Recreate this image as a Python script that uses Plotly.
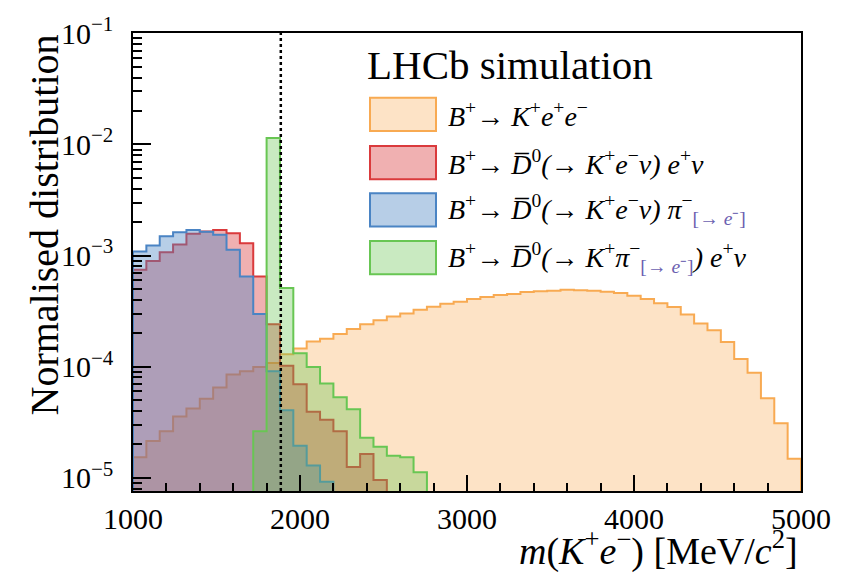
import numpy as np
import plotly.graph_objects as go

# 80 MeV bins between 1000 and 5000 MeV
bin_edges = np.arange(1000, 5001, 80)

# Normalised bin contents (0 = empty bin)
b_kee = [1.53e-5, 2.14e-5, 2.62e-5, 3.55e-5, 4.20e-5, 5.13e-5, 6.50e-5, 8.49e-5, 9.10e-5, 9.91e-5,
         1.08e-4, 1.29e-4, 1.46e-4, 1.68e-4, 1.78e-4, 1.97e-4, 2.18e-4, 2.41e-4, 2.61e-4, 2.83e-4,
         3.01e-4, 3.26e-4, 3.46e-4, 3.68e-4, 3.83e-4, 4.07e-4, 4.24e-4, 4.41e-4, 4.50e-4, 4.69e-4,
         4.78e-4, 4.83e-4, 4.91e-4, 4.88e-4, 4.81e-4, 4.71e-4, 4.59e-4, 4.35e-4, 4.07e-4, 3.73e-4,
         3.44e-4, 2.95e-4, 2.44e-4, 2.13e-4, 1.67e-4, 1.17e-4, 8.79e-5, 5.20e-5, 3.10e-5, 1.48e-5]

b_d_kenu_enu = [7.45e-4, 8.93e-4, 1.07e-3, 1.26e-3, 1.57e-3, 1.65e-3, 1.70e-3, 1.59e-3, 1.29e-3, 6.47e-4,
                2.41e-4, 1.02e-4, 6.93e-5, 3.93e-5, 3.32e-5, 2.62e-5, 1.25e-5, 1.64e-5, 9.57e-6] + [0] * 31

b_d_kenu_pi = [1.09e-3, 1.23e-3, 1.49e-3, 1.62e-3, 1.70e-3, 1.64e-3, 1.54e-3, 1.13e-3, 6.47e-4, 2.98e-4,
               9.10e-5, 4.06e-5, 1.94e-5, 1.29e-5, 9.2e-6] + [0] * 35

b_d_kpi_enu = [0] * 9 + [2.62e-5, 1.14e-2, 5.11e-4, 1.32e-4, 9.93e-5, 7.05e-5, 5.31e-5, 4.14e-5, 2.29e-5,
                         1.90e-5, 1.58e-5, 1.53e-5, 1.12e-5] + [0] * 28

d0_mass_line = 1885

labels = [
    "<i>B</i><sup>+</sup>\u2192 <i>K</i><sup>+</sup><i>e</i><sup>+</sup><i>e</i><sup>\u2212</sup>",
    "<i>B</i><sup>+</sup>\u2192 <i>D\u0305</i><sup>0</sup><i>(\u2192 K</i><sup>+</sup><i>e</i><sup>\u2212</sup><i>\u03bd) e</i><sup>+</sup><i>\u03bd</i>",
    "<i>B</i><sup>+</sup>\u2192 <i>D\u0305</i><sup>0</sup><i>(\u2192 K</i><sup>+</sup><i>e</i><sup>\u2212</sup><i>\u03bd) \u03c0</i><sup>\u2212</sup><sub><span style='color:#6b5fb0'>[\u2192 <i>e</i>\u207b]</span></sub>",
    "<i>B</i><sup>+</sup>\u2192 <i>D\u0305</i><sup>0</sup><i>(\u2192 K</i><sup>+</sup><i>\u03c0</i><sup>\u2212</sup><sub><span style='color:#6b5fb0'>[\u2192 <i>e</i>\u207b]</span></sub><i>) e</i><sup>+</sup><i>\u03bd</i>",
]

line_colours = ["#F8AA52", "#DA3A3C", "#4A84C4", "#68C653"]
fill_colours = ["rgba(248,170,82,0.33)", "rgba(218,58,60,0.40)",
                "rgba(74,132,196,0.40)", "rgba(104,198,83,0.36)"]
series = [b_kee, b_d_kenu_enu, b_d_kenu_pi, b_d_kpi_enu]

FONT = "Liberation Serif"
floor = 1e-8  # below the visible range; empty bins drop to the frame

fig = go.Figure()
for vals, lc, fc in zip(series, line_colours, fill_colours):
    v = np.where(np.asarray(vals, float) > 0, vals, floor)
    xs = np.repeat(bin_edges, 2)
    ys = np.concatenate([[floor], np.repeat(v, 2), [floor]])
    fig.add_trace(go.Scatter(x=xs, y=ys, mode="lines", fill="toself", fillcolor=fc,
                             line=dict(color=lc, width=2), showlegend=False, hoverinfo="skip"))

# plot-area pixel helpers for the hand-drawn legend
L, R, T, B = 133, 801, 21, 491
def px(x):
    return (x - L) / (R - L)
def py(y):
    return (B - y) / (B - T)

fig.add_shape(type="line", xref="x", yref="paper", x0=d0_mass_line, x1=d0_mass_line, y0=0, y1=1,
              line=dict(color="black", width=2.5, dash="3px,3px"))

box_centres = [104.5, 154, 202.5, 251.5]
for lab, lc, fc, yc in zip(labels, line_colours, fill_colours, box_centres):
    fig.add_shape(type="rect", xref="paper", yref="paper",
                  x0=px(370), x1=px(436), y0=py(yc + 17), y1=py(yc - 17),
                  fillcolor=fc, line=dict(color=lc, width=2))
    fig.add_annotation(xref="paper", yref="paper", x=px(446), y=py(yc), xanchor="left",
                       yanchor="middle", text=lab, showarrow=False,
                       font=dict(family=FONT, size=28, color="black"))

fig.add_annotation(xref="paper", yref="paper", x=px(365), y=py(54), xanchor="left", yanchor="middle",
                   text="LHCb simulation", showarrow=False,
                   font=dict(family=FONT, size=41, color="black"))

fig.add_annotation(xref="paper", yref="paper", x=px(44), y=py(21), xanchor="center", yanchor="top",
                   textangle=-90, text="Normalised distribution", showarrow=False,
                   font=dict(family=FONT, size=40, color="black"))

fig.add_annotation(xref="paper", yref="paper", x=px(800), y=py(550), xanchor="right", yanchor="middle",
                   text="<i>m</i>(<i>K</i><sup>+</sup><i>e</i><sup>\u2212</sup>) [MeV/<i>c</i><sup>2</sup>]",
                   showarrow=False, font=dict(family=FONT, size=38, color="black"))

y_major = [1e-5, 1e-4, 1e-3, 1e-2, 1e-1]
y_major_text = ["10<sup>\u2212%d</sup>" % k for k in (5, 4, 3, 2, 1)]
y_minor = [m * 10.0 ** d for d in range(-6, -1) for m in range(2, 10)]
y_minor = [v for v in y_minor if 7.6e-6 < v < 0.1]

fig.update_xaxes(range=[1000, 5000], tickvals=[1000, 2000, 3000, 4000, 5000],
                 ticks="inside", ticklen=16, tickwidth=1.5, tickcolor="black",
                 minor=dict(dtick=200, ticks="inside", ticklen=8, tickwidth=1.5, tickcolor="black"),
                 showline=True, linecolor="black", linewidth=1.5, mirror=True,
                 showgrid=False, zeroline=False, ticklabelstandoff=0,
                 tickfont=dict(family=FONT, size=30, color="black"))
fig.update_yaxes(type="log", range=[np.log10(7.6e-6), -0.997], tickvals=y_major, ticktext=y_major_text,
                 ticks="inside", ticklen=18, tickwidth=1.5, tickcolor="black",
                 minor=dict(tickvals=y_minor, ticks="inside", ticklen=9, tickwidth=1.5, tickcolor="black"),
                 showline=True, linecolor="black", linewidth=1.5, mirror=True,
                 showgrid=False, zeroline=False, ticklabelstandoff=12,
                 tickfont=dict(family=FONT, size=30, color="black"))

fig.update_layout(width=845, height=578, margin=dict(l=L, r=845 - R, t=T, b=578 - B),
                  paper_bgcolor="white", plot_bgcolor="white")

fig.write_html("out.html")
